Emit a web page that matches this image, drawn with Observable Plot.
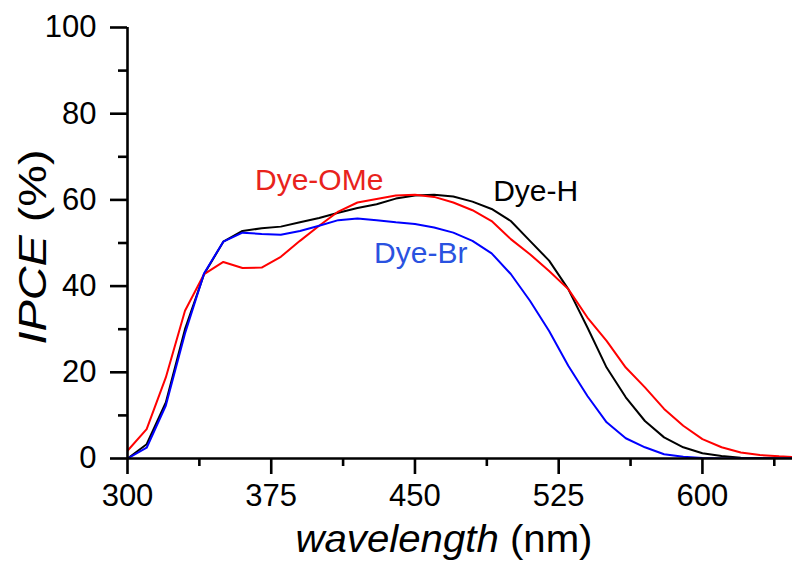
<!DOCTYPE html>
<html>
<head>
<meta charset="utf-8">
<script src="https://cdn.jsdelivr.net/npm/d3@7"></script>
<script src="https://cdn.jsdelivr.net/npm/@observablehq/plot@0.6"></script>
<style>
  html, body { margin: 0; padding: 0; background: #fff; }
</style>
</head>
<body>
<div id="chart"></div>
<script>
const wavelength = [300,310,320,330,340,350,360,370,380,390,400,410,420,430,440,450,460,470,480,490,500,510,520,530,540,550,560,570,580,590,600,610,620,630,640,650];
const dyeH   = [0,3.3,13.0,30.0,42.8,50.3,52.8,53.4,53.8,54.8,55.8,57.0,58.1,59.0,60.3,61.0,61.2,60.8,59.6,57.9,55.1,50.5,45.9,39.3,30.4,21.1,14.2,8.7,4.9,2.6,1.2,0.6,0.2,0.1,0,0];
const dyeOMe = [1.8,6.8,18.8,34.3,42.8,45.6,44.2,44.3,46.8,50.5,54.0,57.3,59.4,60.2,61.0,61.2,60.7,59.4,57.6,55.1,50.9,47.4,43.5,39.3,32.7,27.3,21.1,16.5,11.5,7.6,4.5,2.6,1.4,0.8,0.5,0.3];
const dyeBr  = [0,2.5,12.3,29.0,43.0,50.3,52.4,52.1,51.9,52.8,54.0,55.3,55.7,55.3,54.8,54.4,53.6,52.4,50.5,47.6,42.8,36.6,29.6,21.5,14.5,8.4,4.7,2.6,1.0,0.4,0.1,0,0,0,0,0];

const seriesNames = ["Dye-H", "Dye-OMe", "Dye-Br"];
const seriesColors = ["#000000", "#ff0000", "#0000ff"];
const labelColors = ["#000000", "#e8231c", "#2a52e0"];
// label anchor positions in data units (wavelength, IPCE)
const labelX = [513, 400, 453];
const labelY = [62.0, 64.5, 47.7];

const xTicks = [300, 375, 450, 525, 600];
const xMinor = [337.5, 412.5, 487.5, 562.5, 637.5];
const yTicks = [0, 20, 40, 60, 80, 100];
const yMinor = [10, 30, 50, 70, 90];

const seriesValues = [dyeH, dyeOMe, dyeBr];
const rows = [];
seriesNames.forEach((name, i) => {
  wavelength.forEach((w, j) => rows.push({series: name, wl: w, ipce: seriesValues[i][j]}));
});
const labels = seriesNames.map((name, i) => ({name, x: labelX[i], y: labelY[i], color: labelColors[i]}));

const axisSW = 2.6;
const chart = Plot.plot({
  width: 792,
  height: 567,
  marginLeft: 127,
  marginRight: 0,
  marginTop: 27,
  marginBottom: 109,
  style: {fontFamily: "'Liberation Sans', Arial, sans-serif", background: "#fff", color: "#000"},
  x: {domain: [300, 647], label: null},
  y: {domain: [0, 100], label: null},
  color: {domain: seriesNames, range: seriesColors},
  marks: [
    Plot.line(rows, {x: "wl", y: "ipce", z: "series", stroke: "series", strokeWidth: 2, clip: true}),
    Plot.axisY({ticks: yTicks, tickSize: 17, tickPadding: 14, fontSize: 31, strokeWidth: axisSW, label: null}),
    Plot.axisY({ticks: yMinor, tickSize: 9, text: null, strokeWidth: axisSW, label: null}),
    Plot.axisX({ticks: xTicks, tickSize: 16, tickPadding: 9, fontSize: 31, strokeWidth: axisSW, label: null}),
    Plot.axisX({ticks: xMinor, tickSize: 8, text: null, strokeWidth: axisSW, label: null}),
    Plot.ruleX([300], {strokeWidth: axisSW}),
    Plot.ruleY([0], {strokeWidth: axisSW}),
    Plot.text(labels, {x: "x", y: "y", text: "name", fill: "color", fontSize: 30, textAnchor: "middle", lineAnchor: "middle"}),
    Plot.text(["IPCE (%)"], {frameAnchor: "left", rotate: -90, dx: -94, dy: 4, fontSize: 38, textAnchor: "middle", lineAnchor: "middle"}),
    Plot.text(["wavelength (nm)"], {frameAnchor: "bottom", dx: -16, dy: 81, fontSize: 39, textAnchor: "middle", lineAnchor: "middle"})
  ]
});

// italicize the variable part of each axis title and stretch to the reference length
const ns = "http://www.w3.org/2000/svg";
chart.querySelectorAll("text").forEach(t => {
  const s = t.textContent;
  let parts = null, len = null;
  if (s === "IPCE (%)") { parts = ["IPCE", " (%)"]; len = 195; }
  if (s === "wavelength (nm)") { parts = ["wavelength", " (nm)"]; len = 297; }
  if (parts) {
    t.textContent = "";
    t.setAttribute("style", "white-space: pre");
    t.setAttribute("textLength", len);
    t.setAttribute("lengthAdjust", "spacingAndGlyphs");
    const a = document.createElementNS(ns, "tspan");
    a.setAttribute("font-style", "italic");
    a.textContent = parts[0];
    const b = document.createElementNS(ns, "tspan");
    b.textContent = parts[1];
    t.appendChild(a); t.appendChild(b);
  }
});
document.getElementById("chart").appendChild(chart);
</script>
</body>
</html>
